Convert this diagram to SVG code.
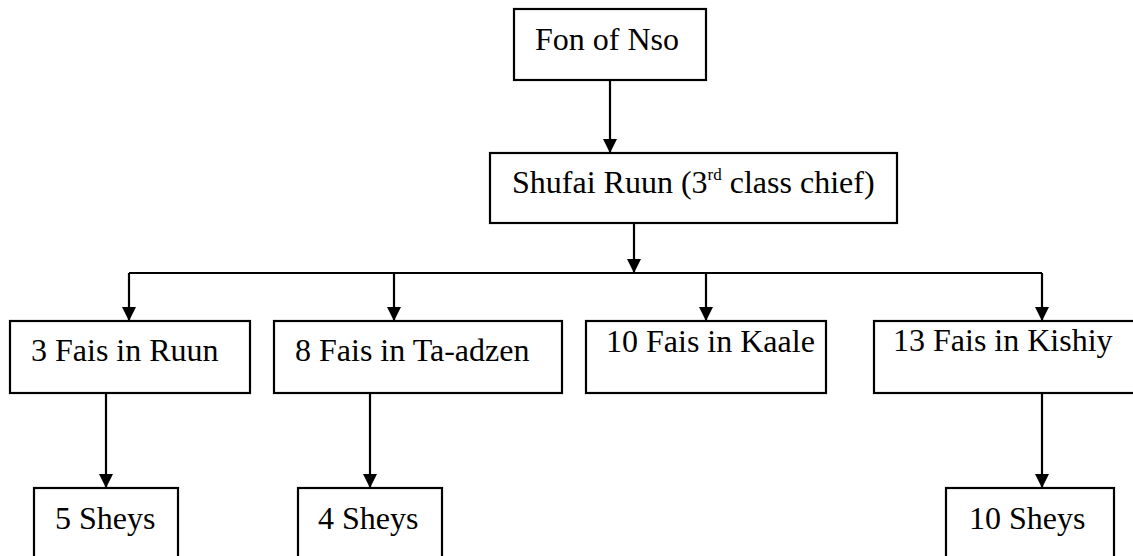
<svg xmlns="http://www.w3.org/2000/svg" width="1133" height="556" viewBox="0 0 1133 556">
<style>
.box{fill:#fff;stroke:#000;stroke-width:2.2}
.t{font-family:'Liberation Serif','Times New Roman',Times,serif;font-size:32px;fill:#000}
.c{fill:none;stroke:#000;stroke-width:2.2}
</style>
<defs>
<marker id="ah" markerUnits="userSpaceOnUse" markerWidth="14" markerHeight="15" refX="14" refY="7" orient="auto" viewBox="0 0 14 14">
<path d="M0,0 L14,7 L0,14 Z" fill="#000"/>
</marker>
</defs>
<rect width="1133" height="556" fill="#fff"/>
<g id="connectors">
<path class="c" d="M610,80 V153" marker-end="url(#ah)"/>
<path class="c" d="M634,223 V273" marker-end="url(#ah)"/>
<path class="c" d="M129,273 H1042"/>
<path class="c" d="M129,273 V321" marker-end="url(#ah)"/>
<path class="c" d="M394,273 V321" marker-end="url(#ah)"/>
<path class="c" d="M706,273 V321" marker-end="url(#ah)"/>
<path class="c" d="M1042,273 V321" marker-end="url(#ah)"/>
<path class="c" d="M106,393 V488" marker-end="url(#ah)"/>
<path class="c" d="M370,393 V488" marker-end="url(#ah)"/>
<path class="c" d="M1042,393 V488" marker-end="url(#ah)"/>
</g>
<g id="fon"><rect class="box" x="514" y="9" width="192" height="71"/><text class="t" x="535" y="50">Fon of Nso</text></g>
<g id="shufai"><rect class="box" x="490" y="153" width="407" height="70"/><text class="t" x="512" y="193">Shufai Ruun (3<tspan font-size="17" dy="-13">rd</tspan><tspan dy="13"> class chief)</tspan></text></g>
<g id="ruun"><rect class="box" x="10" y="321" width="240" height="72"/><text class="t" x="31" y="361">3 Fais in Ruun</text></g>
<g id="taadzen"><rect class="box" x="274" y="321" width="288" height="72"/><text class="t" x="295" y="361">8 Fais in Ta-adzen</text></g>
<g id="kaale"><rect class="box" x="586" y="321" width="240" height="72"/><text class="t" x="606" y="352">10 Fais in Kaale</text></g>
<g id="kishiy"><rect class="box" x="874" y="321" width="270" height="72"/><text class="t" x="893" y="351">13 Fais in Kishiy</text></g>
<g id="sheys5"><rect class="box" x="34" y="488" width="144" height="80"/><text class="t" x="55" y="529">5 Sheys</text></g>
<g id="sheys4"><rect class="box" x="298" y="488" width="144" height="80"/><text class="t" x="318" y="529">4 Sheys</text></g>
<g id="sheys10"><rect class="box" x="946" y="488" width="168" height="80"/><text class="t" x="969" y="529">10 Sheys</text></g>
</svg>
